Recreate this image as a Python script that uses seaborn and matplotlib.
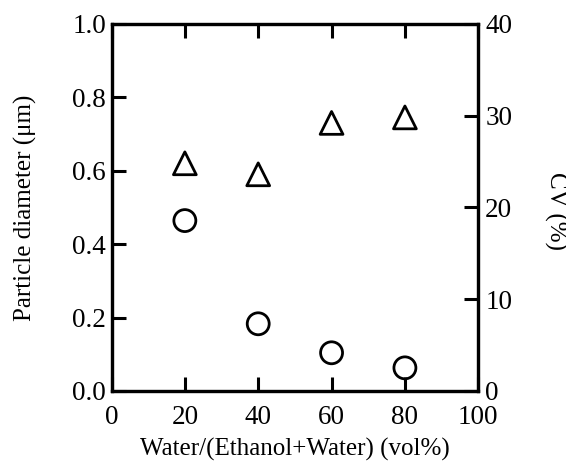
import matplotlib
matplotlib.use("Agg")
import matplotlib.pyplot as plt
import seaborn as sns
import pandas as pd

water_ratio = [20, 40, 60, 80]
particle_diameter = [0.464, 0.183, 0.104, 0.063]
cv_percent = [24.8, 23.6, 29.2, 29.8]
x_ticks = [0, 20, 40, 60, 80, 100]
left_ticks = [0.0, 0.2, 0.4, 0.6, 0.8, 1.0]
right_ticks = [0, 10, 20, 30, 40]

sns.set_theme(style="white")
plt.rcParams['font.family'] = ['Liberation Serif', 'DejaVu Serif']

fig = plt.figure(figsize=(5.66, 4.66), dpi=100)
ax = fig.add_axes([0.197, 0.161, 0.648, 0.788])
ax2 = ax.twinx()

df = pd.DataFrame({"water": water_ratio, "d": particle_diameter, "cv": cv_percent})

sns.scatterplot(data=df, x="water", y="d", ax=ax, marker="o", s=250,
                facecolors="none", edgecolor="black", linewidth=2.0, zorder=3)
sns.scatterplot(data=df, x="water", y="cv", ax=ax2, marker="^", s=270,
                facecolors="none", edgecolor="black", linewidth=2.0, zorder=3)

ax.set_xlim(0, 100)
ax.set_ylim(0, 1.0)
ax2.set_ylim(0, 40)
ax.set_xticks(x_ticks)
ax.set_xticklabels([str(v) for v in x_ticks])
ax.set_yticks(left_ticks)
ax.set_yticklabels([f"{v:.1f}" for v in left_ticks])
ax2.set_yticks(right_ticks)
ax2.set_yticklabels([str(v) for v in right_ticks])

for a in (ax, ax2):
    for s in a.spines.values():
        s.set_linewidth(2.3)
        s.set_color("black")
        s.set_visible(True)

fs = 18
tfs = 19.5
ax.tick_params(axis="x", direction="in", length=10, width=2.2, top=True, bottom=True,
               labelsize=tfs, pad=10, colors="black")
ax.tick_params(axis="y", direction="in", length=10, width=2.2, left=True, right=False,
               labelsize=tfs, pad=4, colors="black")
ax2.tick_params(axis="y", direction="in", length=10, width=2.2, right=True,
                labelsize=tfs, pad=5, colors="black")

ax.set_xlabel("Water/(Ethanol+Water) (vol%)", fontsize=fs, color="black")
ax.set_ylabel("Particle diameter (μm)", fontsize=fs, color="black")
ax2.set_ylabel("CV (%)", fontsize=fs, rotation=270, color="black")
ax.xaxis.set_label_coords(0.5, -0.128)
ax.yaxis.set_label_coords(-0.202, 0.5)
ax2.yaxis.label.set_verticalalignment("bottom")
ax2.yaxis.set_label_coords(1.178, 0.49)
ax.grid(False)
ax2.grid(False)

fig.savefig("out.png", dpi=100)
